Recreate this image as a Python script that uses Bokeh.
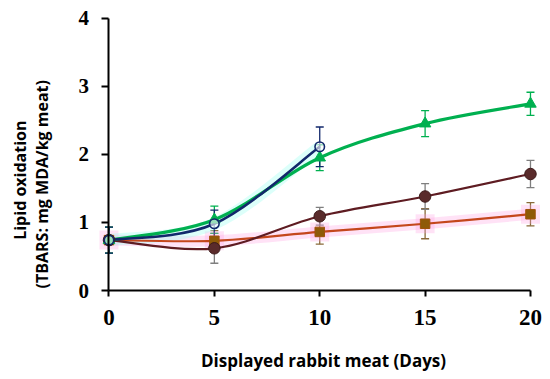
import math
import numpy as np
from bokeh.plotting import figure
from bokeh.models import ColumnDataSource, Whisker, TeeHead, Label, FixedTicker, Range1d
from bokeh.embed import file_html
from bokeh.resources import INLINE

# ---- data ----
days = [0, 5, 10, 15, 20]
navy_days = [0, 5, 10]
navy_vals = [0.74, 0.98, 2.11]
navy_err = [0.19, 0.20, 0.29]
green_vals = [0.74, 1.04, 1.95, 2.45, 2.74]
green_err = [0.19, 0.20, 0.19, 0.19, 0.17]
maroon_vals = [0.74, 0.62, 1.09, 1.38, 1.71]
maroon_err = [0.19, 0.22, 0.13, 0.19, 0.20]
orange_vals = [0.74, 0.73, 0.86, 0.98, 1.12]
orange_err = [0.19, 0.15, 0.18, 0.22, 0.17]
x_ticks = [0, 5, 10, 15, 20]
y_ticks = [0, 1, 2, 3, 4]
x_title = "Displayed rabbit meat (Days)"
y_title_1 = "Lipid oxidation"
y_title_2 = "(TBARS: mg MDA/kg meat)"


def smooth(xs, ys):
    """Bezier segments with Catmull-Rom style control points (like Excel's smoothed lines)."""
    xs = np.asarray(xs, float); ys = np.asarray(ys, float)
    n = len(xs)
    out = dict(x0=[], y0=[], x1=[], y1=[], cx0=[], cy0=[], cx1=[], cy1=[])
    for i in range(n - 1):
        pm = max(i - 1, 0); pp = min(i + 2, n - 1)
        out["x0"].append(xs[i]); out["y0"].append(ys[i])
        out["x1"].append(xs[i + 1]); out["y1"].append(ys[i + 1])
        out["cx0"].append(xs[i] + (xs[i + 1] - xs[pm]) / 6)
        out["cy0"].append(ys[i] + (ys[i + 1] - ys[pm]) / 6)
        out["cx1"].append(xs[i + 1] - (xs[pp] - xs[i]) / 6)
        out["cy1"].append(ys[i + 1] - (ys[pp] - ys[i]) / 6)
    return ColumnDataSource(out)


p = figure(width=550, height=379,
           x_range=Range1d(-5.148, 20.95), y_range=Range1d(-1.306, 4.257),
           output_backend="svg", toolbar_location=None,
           min_border_left=0, min_border_right=0, min_border_top=0, min_border_bottom=0)
p.outline_line_color = None
p.grid.visible = False
p.background_fill_color = "white"
p.border_fill_color = "white"

# axes (crossing at the origin)
for ax in (p.xaxis[0], p.yaxis[0]):
    ax.fixed_location = 0
    ax.axis_line_color = "black"
    ax.axis_line_width = 2
    ax.major_tick_line_color = "black"
    ax.major_tick_line_width = 2
    ax.major_tick_in = 0
    ax.minor_tick_line_color = None
    ax.major_label_text_font = "Liberation Serif"
    ax.major_label_text_font_style = "bold"
    ax.major_label_text_color = "black"
p.xaxis.bounds = (0, 20)
p.yaxis.bounds = (0, 4)
p.xaxis.ticker = FixedTicker(ticks=x_ticks)
p.yaxis.ticker = FixedTicker(ticks=y_ticks)
p.xaxis.major_tick_out = 6
p.yaxis.major_tick_out = 7
p.xaxis.major_label_text_font_size = "23px"
p.yaxis.major_label_text_font_size = "21px"
p.xaxis.major_label_standoff = 13
p.yaxis.major_label_standoff = 13

# axis titles
title_font = "Open Sans"
p.add_layout(Label(x=10.18, y=-1.03, text=x_title, text_align="center", text_baseline="alphabetic",
                   text_font=title_font, text_font_size="17px", text_font_style="bold", text_color="black"))
p.add_layout(Label(x=-4.24, y=1.62, text=y_title_1, angle=math.pi / 2, text_align="center",
                   text_baseline="alphabetic", text_font=title_font, text_font_size="16px",
                   text_font_style="bold", text_color="black"))
p.add_layout(Label(x=-3.2, y=1.56, text=y_title_2, angle=math.pi / 2, text_align="center",
                   text_baseline="alphabetic", text_font=title_font, text_font_size="16px",
                   text_font_style="bold", text_color="black"))

NAVY = "#12286b"
GREEN = "#00b050"
MAROON = "#5e1c22"
MAROON_FILL = "#5a2b2b"
ORANGE = "#c4471c"
ORANGE_FILL = "#8e5a08"

# error bars
def errbars(xs, ys, es, color):
    src = ColumnDataSource(dict(x=xs, lo=[y - e for y, e in zip(ys, es)], hi=[y + e for y, e in zip(ys, es)]))
    w = Whisker(base="x", lower="lo", upper="hi", source=src, line_color=color, line_width=1.3,
                upper_head=TeeHead(size=8, line_color=color, line_width=1.3),
                lower_head=TeeHead(size=8, line_color=color, line_width=1.3), level="underlay")
    p.add_layout(w)

errbars(days, orange_vals, orange_err, "#8a6a3a")
errbars(days, maroon_vals, maroon_err, "#7f7f7f")
errbars(days, green_vals, green_err, GREEN)
errbars(navy_days, navy_vals, navy_err, NAVY)

# glow effects
s_or = smooth(days, orange_vals)
p.bezier(x0="x0", y0="y0", x1="x1", y1="y1", cx0="cx0", cy0="cy0", cx1="cx1", cy1="cy1",
         source=s_or, line_color="#ff9ee0", line_width=11, line_alpha=0.3)
p.scatter(days, orange_vals, marker="square", size=19, fill_color="#ff9ee0", fill_alpha=0.3, line_color=None)
s_nv = smooth(navy_days, navy_vals)
p.bezier(x0="x0", y0="y0", x1="x1", y1="y1", cx0="cx0", cy0="cy0", cx1="cx1", cy1="cy1",
         source=s_nv, line_color="#a8fff2", line_width=12, line_alpha=0.4)

# lines
for src, col, lw in ((s_or, ORANGE, 2.2), (smooth(days, maroon_vals), MAROON, 2.2),
                     (smooth(days, green_vals), GREEN, 3.2), (s_nv, NAVY, 2.6)):
    p.bezier(x0="x0", y0="y0", x1="x1", y1="y1", cx0="cx0", cy0="cy0", cx1="cx1", cy1="cy1",
             source=src, line_color=col, line_width=lw)

# markers
p.scatter(days, orange_vals, marker="square", size=9.5, fill_color=ORANGE_FILL, line_color="#a0520a", line_width=1)
p.scatter(days, maroon_vals, marker="circle", size=11.5, fill_color=MAROON_FILL, line_color="#3d1a1a", line_width=1)
p.scatter(days, green_vals, marker="triangle", size=11.5, fill_color=GREEN, line_color=GREEN, line_width=1)
p.scatter(navy_days, navy_vals, marker="circle", size=9.5, fill_color="white", fill_alpha=0.6,
          line_color=NAVY, line_width=1.6)

open("out.html", "w").write(file_html(p, INLINE))
